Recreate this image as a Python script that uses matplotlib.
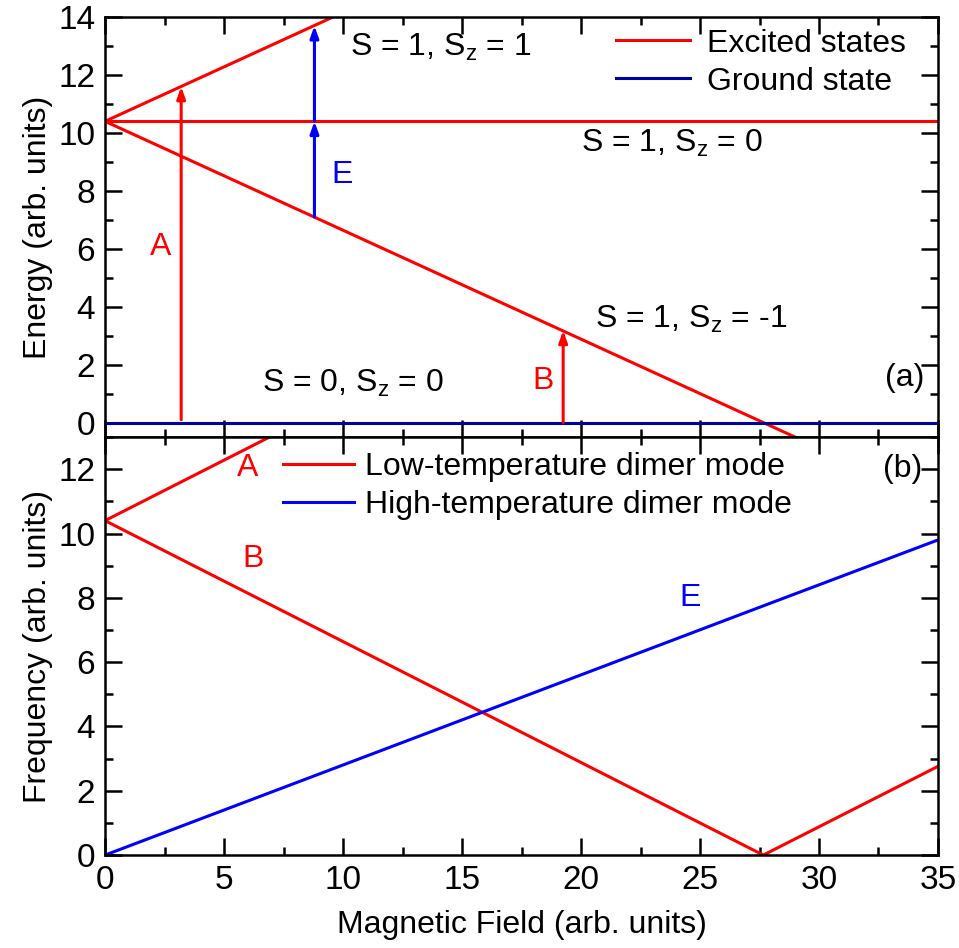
import matplotlib
matplotlib.use("Agg")
import matplotlib.pyplot as plt
from matplotlib.ticker import MultipleLocator

plt.rcParams['font.family'] = ['Liberation Sans', 'DejaVu Sans']
plt.rcParams['mathtext.fontset'] = 'custom'
plt.rcParams['mathtext.rm'] = 'Liberation Sans'
plt.rcParams['mathtext.it'] = 'Liberation Sans:italic'

RED = '#ff0000'
BLUE = '#0000ff'
NAVY = '#0000a0'

# ---- data ----
field = [0, 35]
# panel (a) energy levels
e_sz_plus = [10.4, 23.56]
e_sz_zero = [10.4, 10.4]
e_sz_minus = [10.4, -2.76]
e_ground = [0, 0]
# transitions (x, y_start, y_end)
arrow_A = (3.2, 0.1, 11.6)
arrow_B = (19.25, 0.0, 3.18)
arrow_E1 = (8.8, 7.1, 10.4)
arrow_E2 = (8.8, 10.4, 13.7)

# panel (b) frequencies
field_b = [0, 27.66, 35]
f_A = [10.4, 20.8, 23.56]
f_B = [10.4, 0.0, 2.76]
f_E = [0, 7.75, 9.8]

fig = plt.figure(figsize=(9.59, 9.48), dpi=100)
ax1 = fig.add_axes([0.1095, 0.539, 0.9781 - 0.1095, 0.982 - 0.539])
ax2 = fig.add_axes([0.1095, 0.098, 0.9781 - 0.1095, 0.539 - 0.098], sharex=ax1)

lw = 2.2
ax1.plot(field, e_sz_plus, color=RED, lw=lw, label='Excited states')
ax1.plot(field, e_sz_zero, color=RED, lw=lw)
ax1.plot(field, e_sz_minus, color=RED, lw=lw)
ax1.plot(field, e_ground, color=NAVY, lw=lw, label='Ground state')

def arr(ax, a, color):
    x, y0, y1 = a
    ax.annotate('', xy=(x, y1), xytext=(x, y0),
                arrowprops=dict(arrowstyle='-|>,head_length=0.7,head_width=0.25',
                                color=color, lw=2.2, shrinkA=0, shrinkB=0))

arr(ax1, arrow_A, RED)
arr(ax1, arrow_B, RED)
arr(ax1, arrow_E1, BLUE)
arr(ax1, arrow_E2, BLUE)

fs = 23
tfs = 24
ax1.text(10.3, 12.95, r'S = 1, S$\mathregular{_z}$ = 1', fontsize=fs, ha='left', va='center')
ax1.text(20.0, 9.65, r'S = 1, S$\mathregular{_z}$ = 0', fontsize=fs, ha='left', va='center')
ax1.text(20.6, 3.55, r'S = 1, S$\mathregular{_z}$ = -1', fontsize=fs, ha='left', va='center')
ax1.text(6.6, 1.35, r'S = 0, S$\mathregular{_z}$ = 0', fontsize=fs, ha='left', va='center')
ax1.text(33.6, 1.55, '(a)', fontsize=fs, ha='center', va='center')
ax1.text(2.35, 6.05, 'A', fontsize=fs, color=RED, ha='center', va='center')
ax1.text(9.95, 8.55, 'E', fontsize=fs, color=BLUE, ha='center', va='center')
ax1.text(18.4, 1.45, 'B', fontsize=fs, color=RED, ha='center', va='center')

ax1.set_xlim(0, 35)
ax1.set_ylim(-0.5, 14)
ax1.set_ylabel('Energy (arb. units)', fontsize=fs, labelpad=4)
ax1.yaxis.set_major_locator(MultipleLocator(2))
ax1.yaxis.set_minor_locator(MultipleLocator(1))
ax1.legend(loc='upper right', fontsize=fs, frameon=False, handlelength=2.3,
           handletextpad=0.55, borderaxespad=0.2, labelspacing=0.25,
           bbox_to_anchor=(0.985, 1.018))

ax2.plot(field_b, f_A, color=RED, lw=lw, label='Low-temperature dimer mode')
ax2.plot(field_b, f_B, color=RED, lw=lw)
ax2.plot(field_b, f_E, color=BLUE, lw=lw, label='High-temperature dimer mode')
ax2.text(6.0, 12.05, 'A', fontsize=fs, color=RED, ha='center', va='center')
ax2.text(6.2, 9.22, 'B', fontsize=fs, color=RED, ha='center', va='center')
ax2.text(24.6, 8.0, 'E', fontsize=fs, color=BLUE, ha='center', va='center')
ax2.text(33.5, 12.0, '(b)', fontsize=fs, ha='center', va='center')
ax2.set_xlim(0, 35)
ax2.set_ylim(0, 13)
ax2.set_ylabel('Frequency (arb. units)', fontsize=fs, labelpad=4)
ax2.set_xlabel('Magnetic Field (arb. units)', fontsize=fs, labelpad=10)
ax2.yaxis.set_major_locator(MultipleLocator(2))
ax2.yaxis.set_minor_locator(MultipleLocator(1))
ax2.xaxis.set_major_locator(MultipleLocator(5))
ax2.xaxis.set_minor_locator(MultipleLocator(2.5))
ax2.legend(loc='upper left', fontsize=fs, frameon=False, handlelength=2.2,
           handletextpad=0.35, labelspacing=0.25, borderaxespad=0.2,
           bbox_to_anchor=(0.191, 1.01))

for ax in (ax1, ax2):
    for s in ax.spines.values():
        s.set_linewidth(1.8)
    ax.tick_params(which='both', direction='in', top=True, right=True, width=1.8,
                   labelsize=tfs, pad=7)
    ax.tick_params(which='major', length=12)
    ax.tick_params(which='minor', length=6)
plt.setp(ax1.get_xticklabels(), visible=False)

fig.savefig('out.png', dpi=100)
